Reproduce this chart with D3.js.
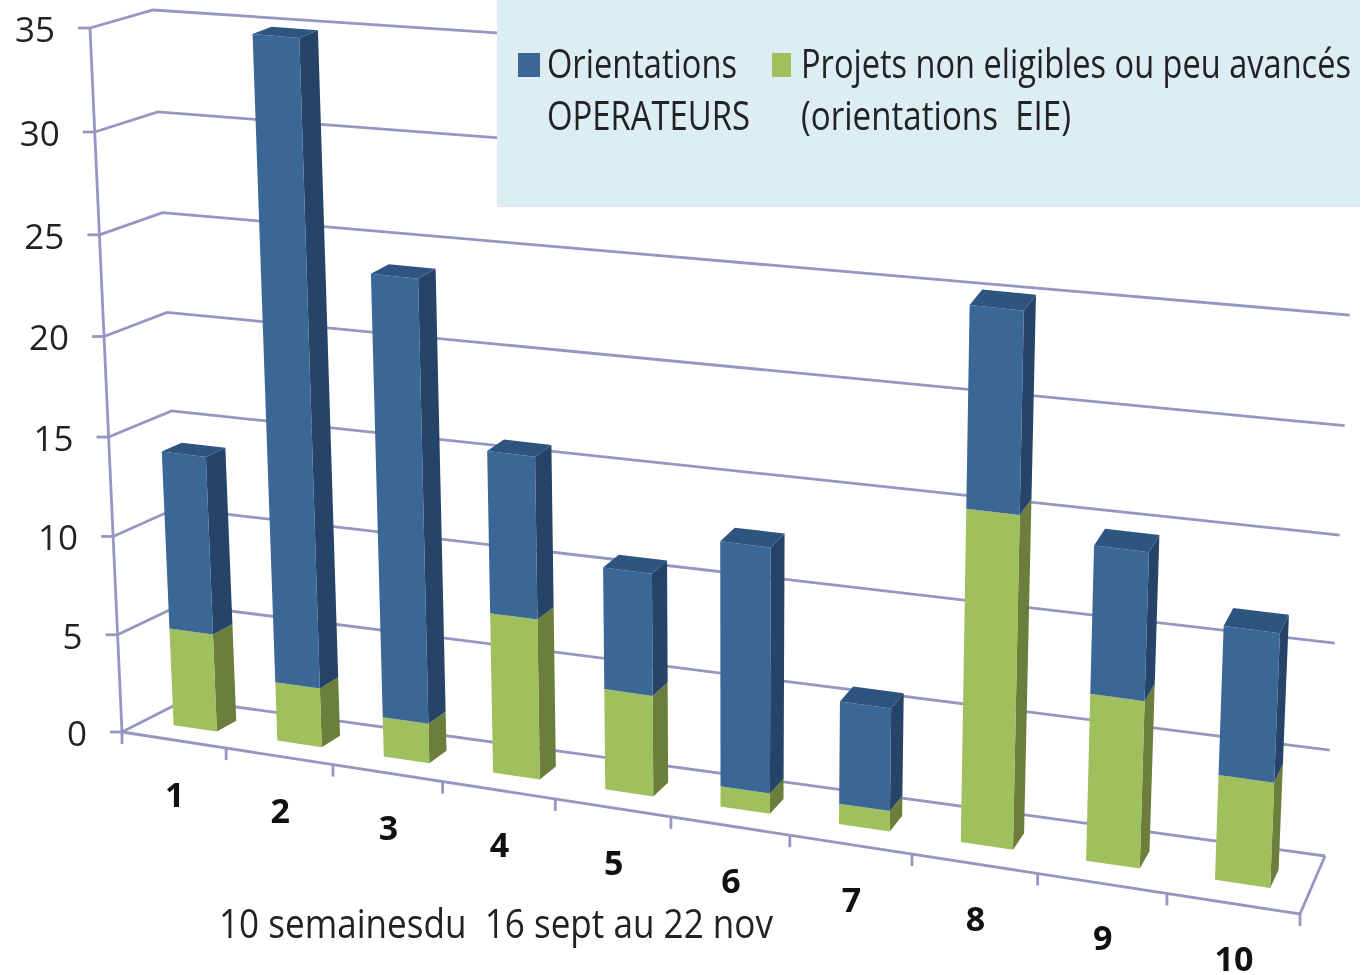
<!DOCTYPE html>
<html><head><meta charset="utf-8">
<script src="https://cdn.jsdelivr.net/npm/d3@7"></script>
<style>html,body{margin:0;padding:0;background:#fff}svg{display:block;filter:blur(0.55px)}
text{font-family:"Open Sans",sans-serif;fill:#222}</style>
</head><body><svg id="c" width="1369" height="975"></svg>
<script>
const categories = ["1","2","3","4","5","6","7","8","9","10"];
const vertTicks = [0,5,10,15,20,25,30,35];
const orientationsOperateurs = [9,32,22,8,6,12,5,9.5,7,7];
const projetsNonEligibles = [5,3,2,8,5,1,1,16,8,5];
const seriesLabels = [["Orientations","OPERATEURS"],["Projets non eligibles ou peu avancés","(orientations  EIE)"]];
const axisTitle = "10 semainesdu  16 sept au 22 nov";

// 3D box: corners [x,y] at value 0 and at value 35
const box = {
  fl0:[122,732], fl1:[90,28], bl0:[185,700], bl1:[153,10],
  fr0:[1300,914], fr1:[1329,150], br0:[1325,856], br1:[1360,90]
};
const persp = t => t/(1.146-0.146*t);
const band = d3.scaleBand().domain(categories).range([0,1]).paddingInner(0.58).paddingOuter(0.29);
const vScale = d3.scaleLinear().domain([0,35]).range([0,1]);
const vPersp = t => t/(1.04-0.04*t);
const mix = (a,b,t)=>[a[0]+(b[0]-a[0])*t,a[1]+(b[1]-a[1])*t];
function P(u,w,v){
  const s=persp(u), k=vPersp(vScale(v));
  const fl=mix(box.fl0,box.fl1,k), fr=mix(box.fr0,box.fr1,k),
        bl=mix(box.bl0,box.bl1,k), br=mix(box.br0,box.br1,k);
  return mix(mix(fl,fr,s),mix(bl,br,s),w);
}
const line=d3.line();
const svg=d3.select("#c");
const gridColor="#9696c2";
const W0=0.35,W1=0.67;

// walls and grid
const g=svg.append("g").attr("fill","none").attr("stroke",gridColor).attr("stroke-width",2.8);
g.selectAll("path.grid").data(vertTicks).join("path").attr("class","grid")
 .attr("d",v=>line([P(0,0,v),P(0,1,v),P(1,1,v)]));
g.append("path").attr("d",line([P(0,0,0),P(0,0,35)]));
g.append("path").attr("d",line([P(0,0,0),P(1,0,0),P(1,1,0)]));
g.selectAll("path.yt").data(vertTicks).join("path").attr("class","yt")
 .attr("d",v=>{const p=P(0,0,v);return line([p,[p[0]-12,p[1]]]);});
const xEdges=d3.range(0,11).map(i=>i/10);
g.selectAll("path.xt").data(xEdges).join("path").attr("class","xt")
 .attr("d",u=>{const p=P(u,0,0);return line([p,[p[0],p[1]+12]]);});

// stacked bars
const rows=categories.map((c,i)=>({c,green:projetsNonEligibles[i],blue:orientationsOperateurs[i]}));
const stack=d3.stack().keys(["green","blue"])(rows);
const colors={green:{front:"#a0bf5d",side:"#6c7e3c",top:"#86a04c"},blue:{front:"#3b6797",side:"#264467",top:"#2e5480"}};
const bars=svg.append("g").selectAll("g").data(rows).join("g");
bars.each(function(d,i){
  const sel=d3.select(this);
  const u0=band(d.c),u1=u0+band.bandwidth();
  stack.forEach(s=>{
    const [a,b]=s[i], col=colors[s.key];
    sel.append("path").attr("fill",col.side).attr("d",line([P(u1,W0,a),P(u1,W1,a),P(u1,W1,b),P(u1,W0,b)])+"Z");
    sel.append("path").attr("fill",col.front).attr("d",line([P(u0,W0,a),P(u1,W0,a),P(u1,W0,b),P(u0,W0,b)])+"Z");
    if(s.key==="blue") sel.append("path").attr("fill",col.top).attr("d",line([P(u0,W0,b),P(u1,W0,b),P(u1,W1,b),P(u0,W1,b)])+"Z");
  });
});

// value labels
svg.append("g").selectAll("text").data(vertTicks).join("text")
 .attr("text-anchor","end").attr("font-size",35)
 .attr("x",v=>P(0,0,v)[0]-35).attr("y",v=>P(0,0,v)[1]+14).text(v=>v);

// category labels
svg.append("g").selectAll("text").data(categories).join("text")
 .attr("text-anchor","middle").attr("font-size",34).attr("font-weight","bold")
 .attr("x",c=>P(band(c)+band.bandwidth()/2,0,0)[0]+1)
 .attr("y",c=>P(band(c)+band.bandwidth()/2,0,0)[1]+67).style("fill","#111").text(c=>c);

svg.append("text").attr("x",219).attr("y",938).attr("font-size",41)
 .attr("textLength",554).attr("lengthAdjust","spacingAndGlyphs").style("white-space","pre").text(axisTitle);

// legend
const lg=svg.append("g");
lg.append("rect").attr("x",497).attr("y",0).attr("width",863).attr("height",207).attr("fill","#dcedf4");
const legendX=[518,772], textX=[547,801], widths=[[190,203],[550,270]];
seriesLabels.forEach((lines,i)=>{
  lg.append("rect").attr("x",legendX[i]).attr("y",53).attr("width",i?19:22).attr("height",24)
    .attr("fill",i?colors.green.front:colors.blue.front);
  lines.forEach((t,j)=>lg.append("text").attr("x",textX[i]).attr("y",78+j*52).attr("font-size",41)
    .attr("textLength",widths[i][j]).attr("lengthAdjust","spacingAndGlyphs").style("white-space","pre").text(t));
});
</script></body></html>
